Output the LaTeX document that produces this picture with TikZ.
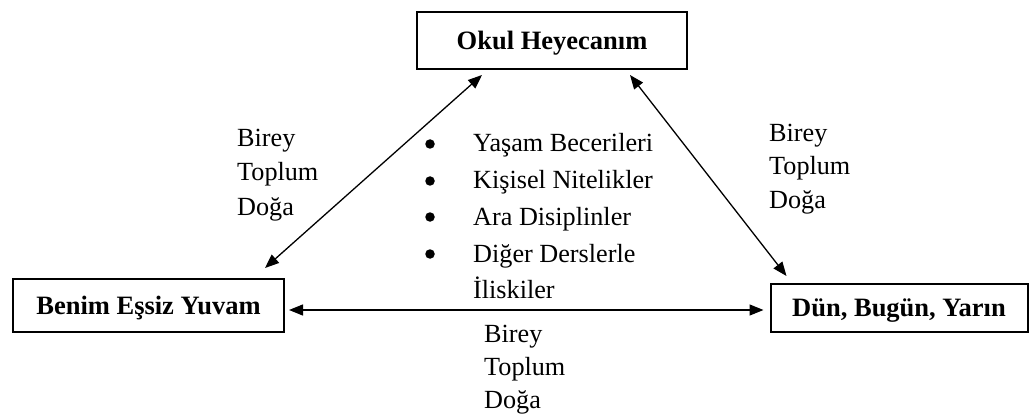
\documentclass[tikz,border=0pt]{standalone}
\usepackage{fontspec}
\setmainfont{Liberation Serif}
\usetikzlibrary{arrows.meta,calc}
\begin{document}
\begin{tikzpicture}[x=1pt,y=-1pt,
  box/.style={draw,line width=2pt,inner sep=0pt,font=\fontsize{26.5}{30}\selectfont\bfseries,text height=17.5pt,text depth=0pt},
  lbl/.style={anchor=base west,inner sep=0pt,font=\fontsize{26.2}{30}\selectfont},
  blt/.style={circle,fill=black,inner sep=0pt,minimum size=9.5pt},
  conn/.style={line width=1.3pt,{Triangle[length=14pt,width=11pt]}-{Triangle[length=14pt,width=11pt]}}]
\useasboundingbox (0,0) rectangle (1030,414);

% boxes
\node[box,minimum width=270pt,minimum height=57pt] (top) at (552,40.5) {Okul Heyecanım};
\node[box,minimum width=271pt,minimum height=53pt] (left) at (148.5,305.5) {Benim Eşsiz Yuvam};
\node[box,minimum width=257pt,minimum height=48pt] (right) at (899,308) {Dün, Bugün, Yarın};

% connectors
\draw[conn] ($(top.south west)+(66,5)$) -- ($(left.north east)+(-20,-10)$);
\draw[conn] ($(top.south east)+(-58,5)$) -- ($(right.north west)+(17,-7)$);
\draw[conn] ($(left.east)+(4,4.5)$) -- ($(right.west)+(-6,2)$);

% left labels
\node[lbl] (lb1) at (237,147) {Birey};
\node[lbl] (lb2) at (237,181) {Toplum};
\node[lbl] (lb3) at (237,215) {Doğa};

% right labels
\node[lbl] (rb1) at (769,142) {Birey};
\node[lbl] (rb2) at (769,175) {Toplum};
\node[lbl] (rb3) at (769,208) {Doğa};

% bottom labels
\node[lbl] (bb1) at (484,342) {Birey};
\node[lbl] (bb2) at (484,375) {Toplum};
\node[lbl] (bb3) at (484,408) {Doğa};

% bullet list
\node[blt] (d1) at (430,144) {};
\node[blt] (d2) at (430,181) {};
\node[blt] (d3) at (430,217) {};
\node[blt] (d4) at (430,254) {};
\node[lbl] (t1) at (473,152) {Yaşam Becerileri};
\node[lbl] (t2) at (473,189) {Kişisel Nitelikler};
\node[lbl] (t3) at (473,225) {Ara Disiplinler};
\node[lbl] (t4) at (473,262) {Diğer Derslerle};
\node[lbl] (t5) at (473,298) {İliskiler};
\end{tikzpicture}
\end{document}
